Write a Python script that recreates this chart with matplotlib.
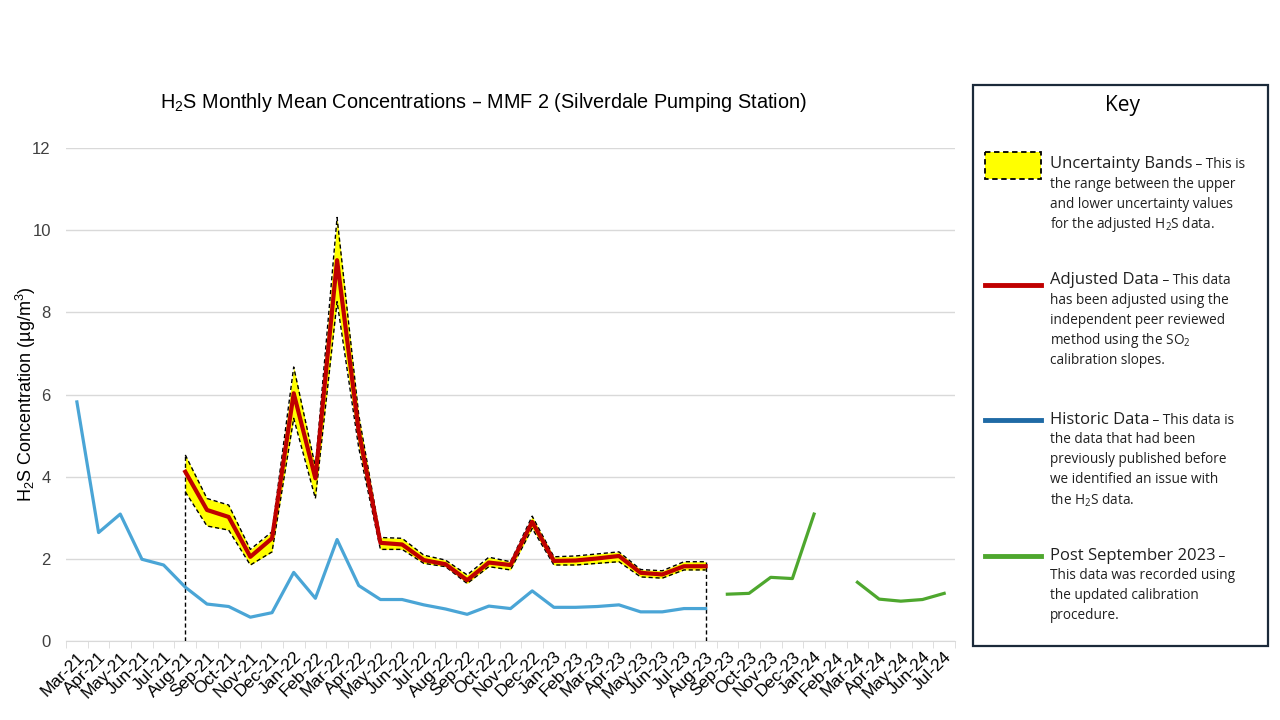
import numpy as np
import matplotlib.pyplot as plt
from matplotlib.patches import Rectangle
from matplotlib.lines import Line2D

plt.rcParams["font.family"] = ["Liberation Sans", "DejaVu Sans"]
plt.rcParams["mathtext.default"] = "regular"

# Month categories (x axis)
months = ["Mar-21", "Apr-21", "May-21", "Jun-21", "Jul-21", "Aug-21", "Sep-21", "Oct-21",
          "Nov-21", "Dec-21", "Jan-22", "Feb-22", "Mar-22", "Apr-22", "May-22", "Jun-22",
          "Jul-22", "Aug-22", "Sep-22", "Oct-22", "Nov-22", "Dec-22", "Jan-23", "Feb-23",
          "Mar-23", "Apr-23", "May-23", "Jun-23", "Jul-23", "Aug-23", "Sep-23", "Oct-23",
          "Nov-23", "Dec-23", "Jan-24", "Feb-24", "Mar-24", "Apr-24", "May-24", "Jun-24",
          "Jul-24"]

# Historic data, Mar-21 .. Aug-23
historic = [5.82, 2.64, 3.09, 1.99, 1.85, 1.31, 0.90, 0.84, 0.58, 0.69, 1.67, 1.04, 2.47,
            1.35, 1.01, 1.01, 0.88, 0.78, 0.65, 0.85, 0.79, 1.22, 0.82, 0.82, 0.84, 0.88,
            0.71, 0.71, 0.79, 0.79]

# Adjusted data + uncertainty band, Aug-21 .. Aug-23
adjusted = [4.12, 3.19, 3.02, 2.05, 2.50, 6.03, 3.96, 9.27, 5.10, 2.39, 2.35, 1.97, 1.87,
            1.48, 1.91, 1.85, 2.90, 1.95, 1.96, 2.01, 2.07, 1.66, 1.62, 1.82, 1.82]
upper = [4.53, 3.47, 3.31, 2.23, 2.66, 6.67, 4.24, 10.31, 5.50, 2.52, 2.50, 2.09, 1.97,
         1.61, 2.04, 1.93, 3.04, 2.05, 2.07, 2.12, 2.17, 1.74, 1.71, 1.93, 1.93]
lower = [3.63, 2.80, 2.70, 1.85, 2.17, 5.42, 3.47, 8.26, 4.70, 2.23, 2.23, 1.89, 1.81,
         1.40, 1.81, 1.73, 2.74, 1.85, 1.85, 1.89, 1.93, 1.56, 1.53, 1.73, 1.73]

# Post September 2023, Sep-23 .. Jul-24 (Feb-24 missing)
post_sep = [1.14, 1.16, 1.55, 1.52, 3.09, np.nan, 1.43, 1.02, 0.97, 1.01, 1.16]

x = np.arange(len(months))
x_hist = x[:len(historic)]
x_adj = x[5:5 + len(adjusted)]
x_post = x[30:30 + len(post_sep)]

fig = plt.figure(figsize=(12.8, 7.2), dpi=100)
ax = fig.add_axes([0.0516, 0.1097, 0.6945, 0.6847])

# Uncertainty band
ax.fill_between(x_adj, lower, upper, color="#FFFF00", lw=0, zorder=2)
ax.plot(x_adj, upper, color="black", lw=1, ls=(0, (3, 2)), zorder=3)
ax.plot(x_adj, lower, color="black", lw=1, ls=(0, (3, 2)), zorder=3)
ax.vlines([x_adj[0], x_adj[-1]], 0, [upper[0], upper[-1]], color="black", lw=1,
          linestyles=(0, (3, 2)), zorder=3)

ax.plot(x_adj, adjusted, color="#C00000", lw=3, solid_joinstyle="round", zorder=4)
ax.plot(x_hist, historic, color="#4AA5D6", lw=2.3, solid_joinstyle="round", zorder=4)
ax.plot(x_post, post_sep, color="#4EA72E", lw=2.3, solid_joinstyle="round", zorder=4)

ax.set_xlim(-0.5, len(months) - 0.5)
ax.set_ylim(0, 12)
ax.set_yticks(range(0, 13, 2))
ax.grid(axis="y", color="#D9D9D9", lw=1)
ax.set_axisbelow(True)
for s in ["top", "right", "left"]:
    ax.spines[s].set_visible(False)
ax.spines["bottom"].set_color("#D9D9D9")
ax.tick_params(axis="y", length=0, labelsize=12, labelcolor="#404040", pad=11)

ax.set_xticks(x)
ax.set_xticklabels(months, rotation=45, ha="right", rotation_mode="anchor")
ax.set_xticks(np.arange(-0.5, len(months)), minor=True)
ax.tick_params(axis="x", which="major", length=0, labelsize=12.5, pad=6)
ax.tick_params(axis="x", which="minor", length=5, color="#D9D9D9")

ax.set_ylabel("H$_2$S Concentration (µg/m$^3$)", fontsize=13)
ax.yaxis.set_label_coords(-0.031, 0.5)
fig.text(0.378, 0.858, "H$_2$S Monthly Mean Concentrations – MMF 2 (Silverdale Pumping Station)",
         ha="center", va="center", fontsize=14.3)

# Key panel
kax = fig.add_axes([0.759, 0.103, 0.232, 0.780])
kax.set_xlim(972, 1268)
kax.set_ylim(646, 84)
kax.axis("off")
kax.add_patch(Rectangle((973, 85), 295, 561, fill=False, ec="#1B2A3A", lw=1.6, clip_on=False))
kax.text(1122, 105, "Key", ha="center", va="center", fontsize=15, family="Open Sans")

kax.add_patch(Rectangle((985, 152), 56, 27, fc="#FFFF00", ec="black", lw=1.3, ls=(0, (3, 2))))
kax.add_line(Line2D([985, 1041], [285, 285], color="#C00000", lw=3.5))
kax.add_line(Line2D([985, 1041], [420, 420], color="#1F6AA5", lw=3.5))
kax.add_line(Line2D([985, 1041], [556, 556], color="#4EA72E", lw=3.5))

key_entries = [
    ("Uncertainty Bands", " – This is", 164,
     ["the range between the upper", "and lower uncertainty values",
      "for the adjusted H$_2$S data."]),
    ("Adjusted Data", " – This data", 280,
     ["has been adjusted using the", "independent peer reviewed",
      "method using the SO$_2$", "calibration slopes."]),
    ("Historic Data", " – This data is", 420,
     ["the data that had been", "previously published before",
      "we identified an issue with", "the H$_2$S data."]),
    ("Post September 2023", " –", 556,
     ["This data was recorded using", "the updated calibration", "procedure."]),
]
for head, tail, y0, body in key_entries:
    t = kax.text(1050, y0, head, ha="left", va="center", fontsize=12,
                 family="Open Sans", color="#202020")
    kax.annotate(tail, xy=(1, 0), xycoords=t, ha="left", va="bottom",
                 fontsize=9.8, family="Open Sans", color="#202020")
    for i, line in enumerate(body):
        kax.text(1050, y0 + 20 * (i + 1), line, ha="left", va="center",
                 fontsize=9.8, family="Open Sans", color="#202020")

fig.savefig("out.png", dpi=100)
